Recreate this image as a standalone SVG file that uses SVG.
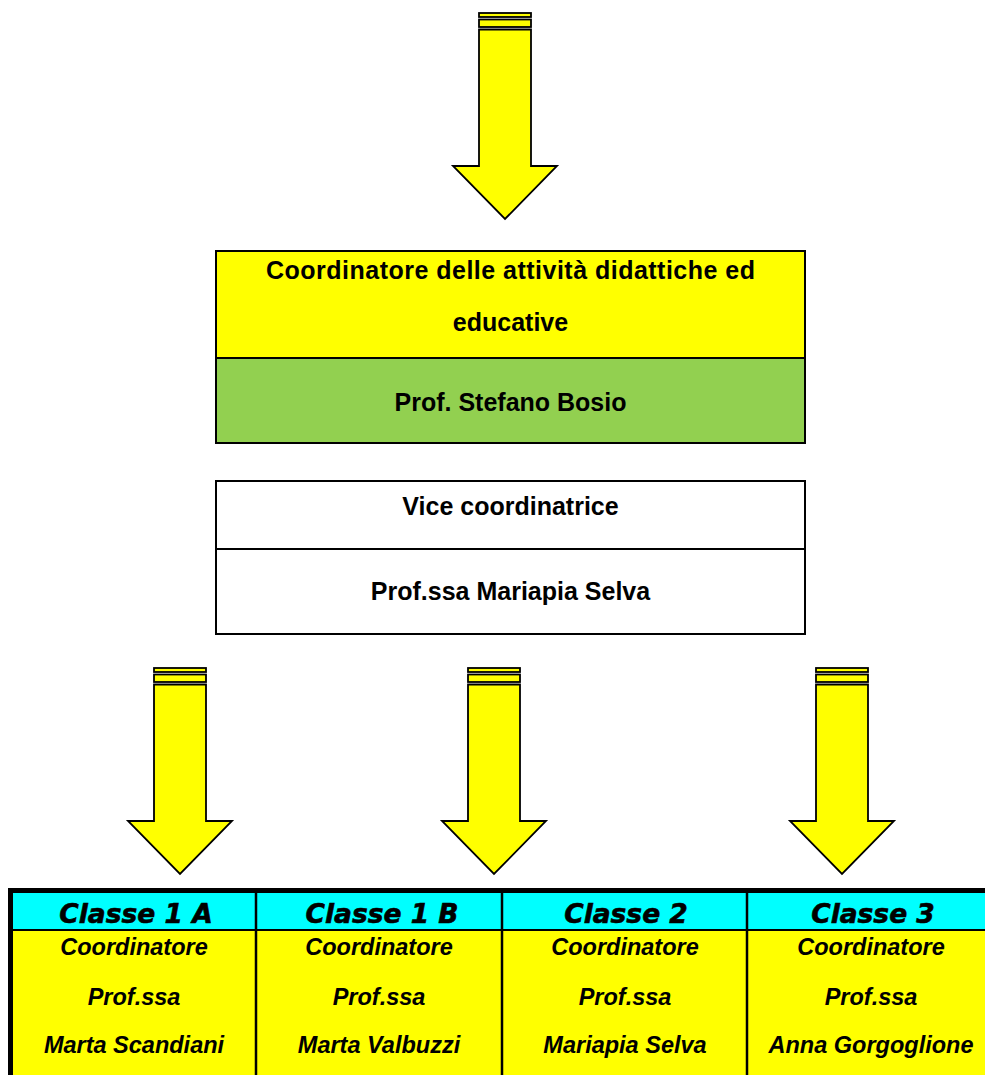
<svg xmlns="http://www.w3.org/2000/svg" xmlns:xlink="http://www.w3.org/1999/xlink" width="985" height="1075" viewBox="0 0 985 1075">
<style>
.box{stroke:#000;stroke-width:2}
.t{font-family:"Liberation Sans",Arial,sans-serif;font-weight:bold;font-size:25px;fill:#000;text-anchor:middle}
.h{font-family:"DejaVu Sans",Verdana,sans-serif;font-weight:bold;font-style:italic;font-size:26.5px;fill:#000;text-anchor:middle;stroke:#000;stroke-width:0.6}
.c{font-family:"Liberation Sans",Arial,sans-serif;font-weight:bold;font-style:italic;font-size:23.5px;fill:#000;text-anchor:middle}
.arr{fill:#FFFF00;stroke:#000;stroke-width:1.8;stroke-linejoin:miter}
.grid{stroke:#000;fill:none}
</style>
<defs>
<g id="arrow">
<rect class="arr" x="-26" y="0" width="52" height="4"/>
<rect class="arr" x="-26" y="6.5" width="52" height="7.5"/>
<polygon class="arr" points="-26,16.5 26,16.5 26,153 52,153 0,206 -52,153 -26,153"/>
</g>
</defs>
<rect width="985" height="1075" fill="#fff"/>

<g id="connectors">
<use xlink:href="#arrow" transform="translate(505,13)"/>
<use xlink:href="#arrow" transform="translate(180,668)"/>
<use xlink:href="#arrow" transform="translate(494,668)"/>
<use xlink:href="#arrow" transform="translate(842,668)"/>
</g>

<g id="coordinatore">
<rect class="box" x="216" y="251" width="589" height="107" fill="#FFFF00"/>
<rect class="box" x="216" y="358" width="589" height="85" fill="#92D050"/>
<text class="t" x="510.5" y="279" textLength="489">Coordinatore delle attività didattiche ed</text>
<text class="t" x="510.5" y="331">educative</text>
<text class="t" x="510.5" y="411">Prof. Stefano Bosio</text>
</g>

<g id="vice">
<rect class="box" x="216" y="481" width="589" height="68" fill="#fff"/>
<rect class="box" x="216" y="549" width="589" height="85" fill="#fff"/>
<text class="t" x="510.5" y="515">Vice coordinatrice</text>
<text class="t" x="510.5" y="600">Prof.ssa Mariapia Selva</text>
</g>

<g id="table">
<rect x="13" y="893" width="972" height="37" fill="#00FFFF"/>
<rect x="13" y="930" width="972" height="145" fill="#FFFF00"/>
<line class="grid" x1="8" y1="890.5" x2="985" y2="890.5" stroke-width="5"/>
<line class="grid" x1="10.5" y1="888" x2="10.5" y2="1075" stroke-width="5"/>
<line class="grid" x1="13" y1="930" x2="985" y2="930" stroke-width="2"/>
<line class="grid" x1="256" y1="888" x2="256" y2="1075" stroke-width="2.5"/>
<line class="grid" x1="502" y1="888" x2="502" y2="1075" stroke-width="2.5"/>
<line class="grid" x1="747" y1="888" x2="747" y2="1075" stroke-width="2.5"/>
</g>

<g id="classe1a">
<text class="h" x="136" y="923">Classe 1 A</text>
<text class="c" x="134" y="955">Coordinatore</text>
<text class="c" x="134" y="1005">Prof.ssa</text>
<text class="c" x="134" y="1053">Marta Scandiani</text>
</g>
<g id="classe1b">
<text class="h" x="382" y="923">Classe 1 B</text>
<text class="c" x="379" y="955">Coordinatore</text>
<text class="c" x="379" y="1005">Prof.ssa</text>
<text class="c" x="379" y="1053">Marta Valbuzzi</text>
</g>
<g id="classe2">
<text class="h" x="626" y="923">Classe 2</text>
<text class="c" x="625" y="955">Coordinatore</text>
<text class="c" x="625" y="1005">Prof.ssa</text>
<text class="c" x="625" y="1053">Mariapia Selva</text>
</g>
<g id="classe3">
<text class="h" x="873" y="923">Classe 3</text>
<text class="c" x="871" y="955">Coordinatore</text>
<text class="c" x="871" y="1005">Prof.ssa</text>
<text class="c" x="871" y="1053">Anna Gorgoglione</text>
</g>
</svg>
